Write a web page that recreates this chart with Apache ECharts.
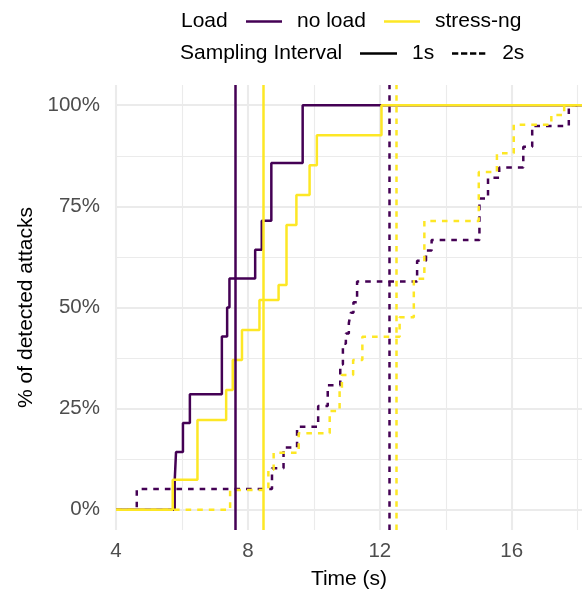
<!DOCTYPE html>
<html><head><meta charset="utf-8">
<script src="https://cdn.jsdelivr.net/npm/echarts@6/dist/echarts.min.js"></script>
<style>html,body{margin:0;padding:0;background:#fff}#c{width:582px;height:592px}</style>
</head><body><div id="c"></div>
<script>
// ---- tick labels ----
const xTicks = [4, 8, 12, 16];
const yTicks = [0, 25, 50, 75, 100];

// ---- ECDF steps: time (s) at which the curve rises, and the new % of detected attacks ----
const noLoad1sX = [5.78, 5.82, 6.03, 6.24, 7.21, 7.37, 7.44, 8.22, 8.42, 8.71, 9.66];
const noLoad1sY = [7.14, 14.29, 21.43, 28.57, 42.86, 50.0, 57.14, 64.29, 71.43, 85.71, 100];

const stress1sX = [5.72, 6.47, 7.34, 7.54, 7.82, 8.35, 8.93, 9.17, 9.47, 9.87, 10.09, 12.05];
const stress1sY = [7.41, 22.22, 29.63, 37.04, 44.44, 51.85, 55.56, 70.37, 77.78, 85.19, 92.59, 100];

const noLoad2sX = [4.63, 8.73, 9.08, 9.49, 10.13, 10.42, 10.80, 10.88, 10.97, 11.06, 11.12, 11.20, 11.31,
                   13.13, 13.40, 13.57, 15.02, 15.28, 15.62, 16.35, 16.62, 17.73];
const noLoad2sY = [5.13, 10.26, 15.38, 20.51, 25.64, 30.77, 35.90, 41.03, 43.59, 46.15, 48.72, 51.28, 56.41,
                   61.54, 64.10, 66.67, 76.92, 82.05, 84.62, 89.74, 94.87, 100];

const stress2sX = [7.46, 8.62, 8.78, 9.54, 10.48, 10.78, 10.85, 11.19, 11.47, 12.60, 13.03, 13.35,
                   15.00, 15.55, 16.06, 17.20, 17.59];
const stress2sY = [4.9, 9.9, 14.1, 18.9, 24.4, 29.6, 33.3, 37.0, 42.8, 47.6, 57.1, 71.4,
                   83.5, 88.1, 95.2, 97.6, 100];

// ---- mean detection time (vertical lines): no load 1s, stress-ng 1s, no load 2s, stress-ng 2s ----
const meanTimes = [7.61, 8.45, 12.30, 12.50];

// ---- styling ----
const PURPLE = '#440154', YELLOW = '#FDE725', GRID = '#EBEBEB', CLEAR = 'rgba(0,0,0,0)';
const X_MIN = 4, X_MAX = 18.13, Y_MIN = -5, Y_MAX = 105;
const FONT = 'Liberation Sans, Arial, Helvetica, sans-serif';
const DASH = [5.6, 6];
const LW = 2.5;

function ecdf(xs, ys) {
  const d = [[X_MIN, 0]];
  xs.forEach((x, i) => d.push([x, ys[i]]));
  d.push([X_MAX, ys[ys.length - 1]]);
  return d;
}
function stepSeries(name, xs, ys, color, dashed) {
  return {
    name: name, type: 'line', step: 'end', data: ecdf(xs, ys),
    showSymbol: false, symbol: 'none', z: 2, silent: true,
    lineStyle: { color: color, width: LW, type: dashed ? DASH : 'solid', cap: 'butt' },
    itemStyle: { color: color }
  };
}
function vlineSeries(value, color, dashed) {
  return {
    type: 'line', data: [], z: 5, silent: true,
    markLine: {
      silent: true, symbol: ['none', 'none'], animation: false,
      label: { show: false },
      lineStyle: { color: color, width: LW, type: dashed ? DASH : 'solid' },
      emphasis: { disabled: true },
      data: [{ xAxis: value }]
    }
  };
}
function legendSeries(name, color) {
  return { name: name, type: 'line', data: [], itemStyle: { color: color }, lineStyle: { color: color } };
}

const majorX = [GRID, CLEAR];
const minorX = [CLEAR, GRID];
const majorY = Array.from({ length: 10 }, (_, i) => (i === 2 ? GRID : CLEAR));
const minorY = Array.from({ length: 10 }, (_, i) => (i === 7 ? GRID : CLEAR));

const dashIcon = 'path://M0,0h7v3h-7z M10,0h7v3h-7z M20,0h7v3h-7z M30,0h7v3h-7z';

function legend(name, left, top, icon, color, w) {
  return {
    left: left, top: top, padding: 0, itemWidth: w, itemHeight: 2.7, selectedMode: false,
    icon: icon,
    data: [{ name: name, icon: icon, itemStyle: { color: color, borderWidth: 0 } }],
    textStyle: { fontFamily: FONT, fontSize: 21, color: '#000', padding: [0, 0, 0, 10] }
  };
}

const chart = echarts.init(document.getElementById('c'), null, { renderer: 'canvas' });
chart.setOption({
  animation: false,
  backgroundColor: '#fff',
  title: [
    { text: 'Load', left: 181, top: 11, padding: 0, textStyle: { fontFamily: FONT, fontSize: 21, fontWeight: 'normal', color: '#000' } },
    { text: 'Sampling Interval', left: 180, top: 43, padding: 0, textStyle: { fontFamily: FONT, fontSize: 21, fontWeight: 'normal', color: '#000' } }
  ],
  legend: [
    legend('no load', 246, 11, 'rect', PURPLE, 36),
    legend('stress-ng', 384, 11, 'rect', YELLOW, 36),
    legend('1s', 360, 43, 'rect', '#000', 37),
    legend('2s', 452, 43, dashIcon, '#000', 37)
  ],
  grid: { left: 116, right: 0, top: 85, bottom: 62, containLabel: false, outerBoundsMode: 'none' },
  xAxis: [
    {
      type: 'value', min: X_MIN, max: X_MAX, interval: 2,
      name: 'Time (s)', nameLocation: 'middle', nameGap: 39,
      nameTextStyle: { fontFamily: FONT, fontSize: 21, color: '#000' },
      axisLine: { show: false }, axisTick: { show: false },
      axisLabel: { fontFamily: FONT, fontSize: 20.5, color: '#4D4D4D', margin: 11,
        showMaxLabel: false,
        formatter: v => (xTicks.includes(v) ? String(v) : '') },
      splitLine: { show: true, showMaxLine: false, lineStyle: { color: majorX, width: 2.1 } }
    },
    {
      type: 'value', min: X_MIN, max: X_MAX, interval: 2, position: 'top',
      axisLine: { show: false }, axisTick: { show: false }, axisLabel: { show: false },
      splitLine: { show: true, showMaxLine: false, lineStyle: { color: minorX, width: 1.1 } }
    }
  ],
  yAxis: [
    {
      type: 'value', min: Y_MIN, max: Y_MAX, interval: 2.5,
      name: '% of detected attacks', nameLocation: 'middle', nameGap: 79,
      nameTextStyle: { fontFamily: FONT, fontSize: 21, color: '#000' },
      axisLine: { show: false }, axisTick: { show: false },
      axisLabel: { fontFamily: FONT, fontSize: 20.5, color: '#4D4D4D', margin: 16,
        formatter: v => (yTicks.includes(v) ? v + '%' : '') },
      splitLine: { show: true, lineStyle: { color: majorY, width: 2.1 } }
    },
    {
      type: 'value', min: Y_MIN, max: Y_MAX, interval: 2.5, position: 'right',
      axisLine: { show: false }, axisTick: { show: false }, axisLabel: { show: false },
      splitLine: { show: true, lineStyle: { color: minorY, width: 1.1 } }
    }
  ],
  series: [
    stepSeries('no load 1s', noLoad1sX, noLoad1sY, PURPLE, false),
    stepSeries('no load 2s', noLoad2sX, noLoad2sY, PURPLE, true),
    stepSeries('stress-ng 1s', stress1sX, stress1sY, YELLOW, false),
    stepSeries('stress-ng 2s', stress2sX, stress2sY, YELLOW, true),
    vlineSeries(meanTimes[0], PURPLE, false),
    vlineSeries(meanTimes[1], YELLOW, false),
    vlineSeries(meanTimes[2], PURPLE, true),
    vlineSeries(meanTimes[3], YELLOW, true),
    legendSeries('no load', PURPLE),
    legendSeries('stress-ng', YELLOW),
    legendSeries('1s', '#000'),
    legendSeries('2s', '#000')
  ]
});
</script>
</body></html>
